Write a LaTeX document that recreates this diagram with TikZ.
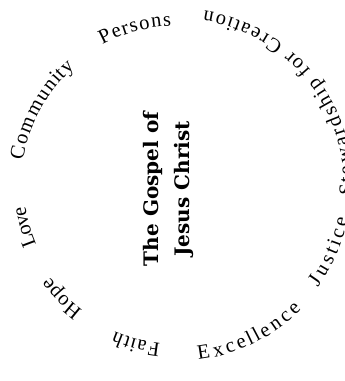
\documentclass[tikz,border=0pt]{standalone}
\usepackage{fontspec}
\setmainfont{Liberation Serif}
\newfontfamily\titlefont{DejaVu Serif}
\newcommand\ringfont{\fontsize{20.5}{20.5}\selectfont}
\usetikzlibrary{decorations.text}
\tikzset{
  arcword/.style={decorate, decoration={text effects along path, text={#1},
      text effects/.cd, fit text to path,
      characters={text along path, font=\ringfont}}},
  title/.style={font=\titlefont\bfseries\fontsize{20}{31}\selectfont, align=center, rotate=90}
}
\begin{document}
\begin{tikzpicture}[x=1pt,y=1pt]
\useasboundingbox (0,0) rectangle (345,381);
\clip (0,0) rectangle (345,381);
\coordinate (c) at (177,196);
\def\ri{159}
\def\ro{176}
% clockwise words (tops outward)
\path[arcword={Faith}] (c) ++(264:\ri) arc[start angle=264, end angle=247, radius=\ri];
\path[arcword={Hope}] (c) ++(233:157) arc[start angle=233, end angle=216, radius=157];
\path[arcword={Love}] (c) ++(203:153) arc[start angle=203, end angle=188, radius=153];
\path[arcword={Community}] (c) ++(171:156) arc[start angle=171, end angle=131, radius=156];
\path[arcword={Persons}] (c) ++(118:\ri) arc[start angle=118, end angle=92, radius=\ri];
% counterclockwise words (tops inward)
\path[arcword={Excellence}] (c) ++(-83:\ro) arc[start angle=-83, end angle=-45, radius=\ro];
\path[arcword={Justice}] (c) ++(-36:174) arc[start angle=-36, end angle=-11, radius=174];
\path[arcword={Stewardship for Creation}] (c) ++(-3.5:\ro) arc[start angle=-3.5, end angle=81, radius=\ro];
\node[title] (gospel) at (168,192) {The Gospel of\\Jesus Christ};
\end{tikzpicture}
\end{document}
